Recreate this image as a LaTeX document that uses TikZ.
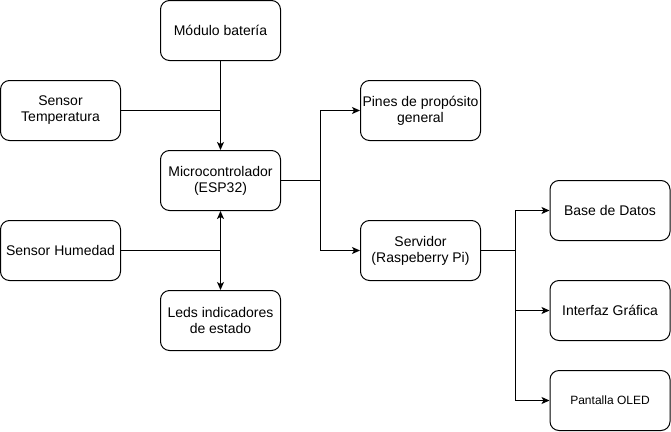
\documentclass[tikz,border=0pt]{standalone}
\usepackage{fontspec}
\setmainfont{Liberation Sans}
\usetikzlibrary{arrows.meta}
\begin{document}
\begin{tikzpicture}[x=1pt,y=-1pt,
  blk/.style={draw=black,line width=1pt,rounded corners=9pt,minimum width=120pt,minimum height=60pt,inner sep=0pt,align=center,font=\fontsize{14pt}{16pt}\selectfont},
  conn/.style={line width=1pt,draw=black},
  arr/.style={conn,-{Stealth[length=8pt,width=7pt,inset=2pt]}},
  darr/.style={conn,{Stealth[length=8pt,width=7pt,inset=2pt]}-{Stealth[length=8pt,width=7pt,inset=2pt]}}]
\useasboundingbox (0,0) rectangle (671,431);
\node[blk] (bat) at (220.5,30.5) {Módulo batería};
\node[blk] (temp) at (60.5,110.5) {Sensor\\Temperatura};
\node[blk] (mcu) at (220.5,180.5) {Microcontrolador\\(ESP32)};
\node[blk] (hum) at (60.5,250.5) {Sensor Humedad};
\node[blk] (leds) at (220.5,320.5) {Leds indicadores\\de estado};
\node[blk] (pines) at (420.5,110.5) {Pines de propósito\\general};
\node[blk] (serv) at (420.5,250.5) {Servidor\\(Raspeberry Pi)};
\node[blk] (bd) at (610,210.5) {Base de Datos};
\node[blk] (gui) at (610,310.5) {Interfaz Gráfica};
\node[blk,font=\fontsize{12pt}{14pt}\selectfont] (oled) at (610,400.5) {Pantalla OLED};
\coordinate (jt) at (220.5,110.5);
\coordinate (jh) at (220.5,250.5);
\draw[arr] (bat.south) -- (mcu.north);
\draw[conn] (temp.east) -- (jt);
\draw[conn] (hum.east) -- (jh);
\draw[darr] (mcu.south) -- (leds.north);
\coordinate (jm) at (320.5,180.5);
\draw[arr] (mcu.east) -- (jm) |- (pines.west);
\draw[arr] (jm) |- (serv.west);
\coordinate (js) at (515.5,250.5);
\draw[arr] (serv.east) -- (js) |- (bd.west);
\draw[arr] (js) |- (gui.west);
\draw[arr] (js) |- (oled.west);
\end{tikzpicture}
\end{document}
